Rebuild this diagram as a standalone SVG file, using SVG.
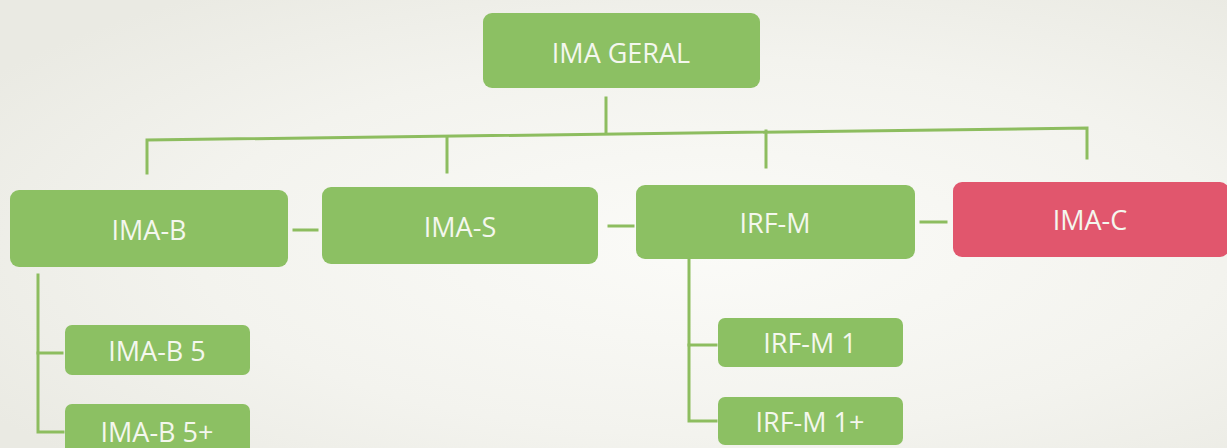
<svg xmlns="http://www.w3.org/2000/svg" width="1227" height="448" viewBox="0 0 1227 448">
<defs>
<radialGradient id="bg" cx="0.58" cy="0.55" r="0.7">
<stop offset="0" stop-color="#fbfbf8"/>
<stop offset="0.6" stop-color="#f3f3ee"/>
<stop offset="1" stop-color="#eaeae3"/>
</radialGradient>
<style>
.g{fill:#8cc063}
.r{fill:#e1566d}
.t{font-family:"Open Sans","Liberation Sans",sans-serif;font-size:27px;fill:#f4f7ee;text-anchor:middle;dominant-baseline:central}
.c{stroke:#8dbd5f;stroke-width:3;fill:none;stroke-linecap:square}
</style>
</defs>
<rect width="1227" height="448" fill="url(#bg)"/>
<g id="connectors" class="c">
<path d="M606 98 V133"/>
<path d="M147 173 V140 L1087 128 V158"/>
<path d="M447 137 V172"/>
<path d="M766 131 V167"/>
<path d="M294 230 H317"/>
<path d="M609 226 H633"/>
<path d="M921 222 H946"/>
<path d="M38 275 V432 H63"/>
<path d="M38 353 H62"/>
<path d="M689 260 V421 H716"/>
<path d="M689 345 H716"/>
</g>
<g id="ima-geral"><rect class="g" x="483" y="13" width="277" height="75" rx="9"/><text class="t" x="621" y="52">IMA GERAL</text></g>
<g id="ima-b"><rect class="g" x="10" y="190" width="278" height="77" rx="9"/><text class="t" x="149" y="229">IMA-B</text></g>
<g id="ima-s"><rect class="g" x="322" y="187" width="276" height="77" rx="9"/><text class="t" x="460" y="226">IMA-S</text></g>
<g id="irf-m"><rect class="g" x="636" y="185" width="279" height="74" rx="9"/><text class="t" x="775" y="222">IRF-M</text></g>
<g id="ima-c"><rect class="r" x="953" y="182" width="276" height="75" rx="9"/><text class="t" x="1090" y="219">IMA-C</text></g>
<g id="ima-b5"><rect class="g" x="65" y="325" width="185" height="50" rx="7"/><text class="t" x="157" y="350">IMA-B 5</text></g>
<g id="ima-b5plus"><rect class="g" x="65" y="404" width="185" height="56" rx="7"/><text class="t" x="157" y="431">IMA-B 5+</text></g>
<g id="irf-m1"><rect class="g" x="718" y="318" width="185" height="49" rx="7"/><text class="t" x="810" y="342">IRF-M 1</text></g>
<g id="irf-m1plus"><rect class="g" x="718" y="397" width="185" height="48" rx="7"/><text class="t" x="810" y="421">IRF-M 1+</text></g>
</svg>
